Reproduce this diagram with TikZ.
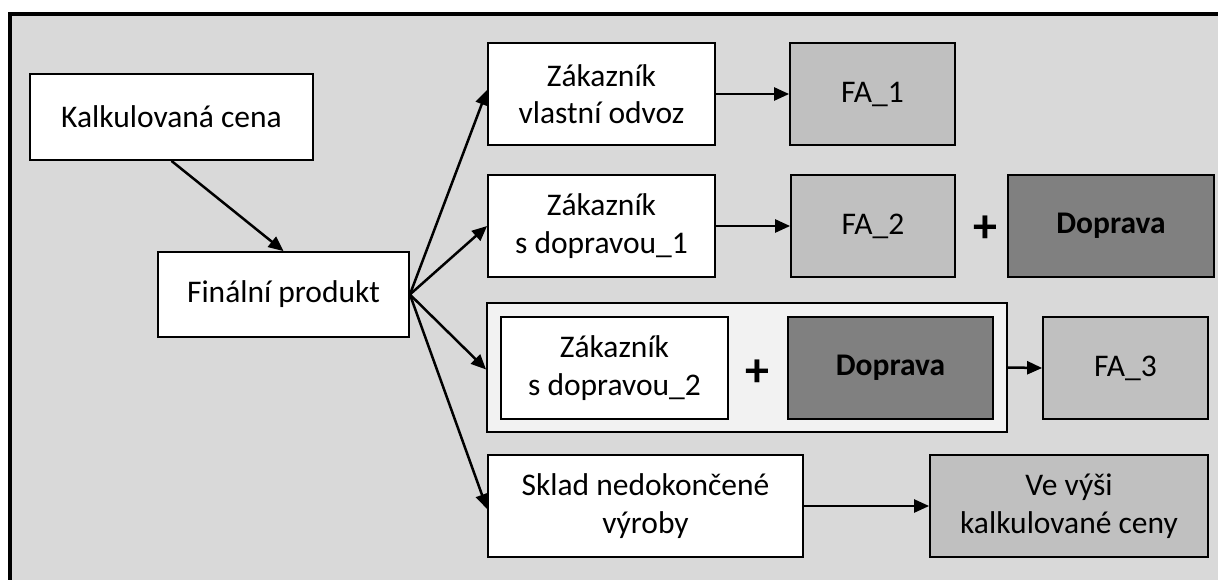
\documentclass[tikz,border=0pt]{standalone}
\usepackage{fontspec}
\setmainfont{Carlito}
\usetikzlibrary{arrows.meta}
\definecolor{panelgray}{HTML}{D9D9D9}
\definecolor{fagray}{HTML}{C0C0C0}
\definecolor{darkgray}{HTML}{808080}
\definecolor{groupgray}{HTML}{F2F2F2}
\begin{document}
\begin{tikzpicture}[x=1pt,y=-1pt,
  txt/.style={font=\fontsize{31.5}{37.5}\selectfont, align=center, text=black},
  box/.style={txt, draw=black, line width=1.8pt, fill=white, inner sep=0pt,
    minimum height=102pt},
  fabox/.style={box, fill=fagray},
  dopbox/.style={box, fill=darkgray, font=\fontsize{31.5}{37.5}\selectfont\bfseries},
  plussign/.style={font=\fontsize{48}{48}\selectfont\bfseries, inner sep=0pt},
  arr/.style={line width=2.5pt, -{Triangle[length=15pt,width=13pt]}}]
  \useasboundingbox (0,0) rectangle (1218,579);
  \clip (0,0) rectangle (1218,579);
  % panel with heavy frame (continues past right and bottom edges)
  \draw[line width=4.5pt, fill=panelgray] (10,14) rectangle (1240,600);

  % left column
  \node[box, minimum width=283pt, minimum height=86pt] (kalk) at (171.5,117) {Kalkulovaná cena};
  \node[box, minimum width=251pt, minimum height=85pt] (fin) at (283.5,294.5) {Finální produkt};

  % row 1
  \node[box, minimum width=227pt] (z1) at (601.5,94) {Zákazník\\vlastní odvoz};
  \node[fabox, minimum width=165pt] (fa1) at (872.5,94) {FA\_1};

  % row 2
  \node[box, minimum width=227pt] (z2) at (601.5,226) {Zákazník\\s dopravou\_1};
  \node[fabox, minimum width=164pt] (fa2) at (873,226) {FA\_2};
  \node[plussign] (p1) at (985,229) {+};
  \node[dopbox, minimum width=206pt] (d1) at (1111,226) {Doprava};

  % row 3: grouped customer + transport
  \node[draw=black, line width=1.8pt, fill=groupgray, minimum width=520pt,
    minimum height=129pt, inner sep=0pt] (grp) at (747,367.5) {};
  \node[box, minimum width=227pt] (z3) at (614.5,368) {Zákazník\\s dopravou\_2};
  \node[plussign] (p2) at (757,373) {+};
  \node[dopbox, minimum width=205pt] (d2) at (890.5,368) {Doprava};
  \node[fabox, minimum width=165pt] (fa3) at (1125.5,368) {FA\_3};

  % row 4
  \node[box, minimum width=315pt] (sklad) at (645.5,506) {Sklad nedokončené\\výroby};
  \node[fabox, minimum width=278pt] (vyse) at (1069,506) {Ve výši\\kalkulované ceny};

  % connectors
  \draw[arr] (fin.east) -- ([yshift=4pt]z1.west);
  \draw[arr] (kalk.south) -- (fin.north);
  \draw[arr] (fin.east) -- (z2.west);
  \draw[arr] (fin.east) -- ([yshift=-2pt]grp.west);
  \draw[arr] (fin.east) -- ([yshift=-3pt]sklad.west);
  \draw[arr] (z1.east) -- (fa1.west);
  \draw[arr] (z2.east) -- (fa2.west);
  \draw[arr] (grp.east) -- (fa3.west);
  \draw[arr] (sklad.east) -- (vyse.west);
\end{tikzpicture}
\end{document}
